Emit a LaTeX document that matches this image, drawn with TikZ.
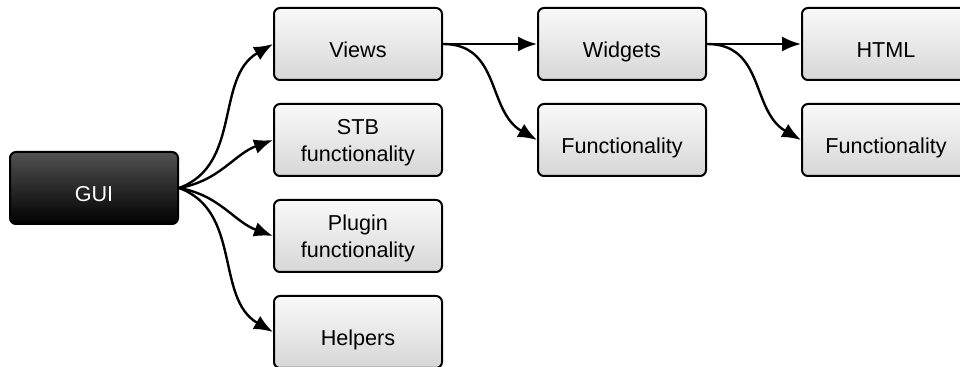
\documentclass[tikz,border=0pt]{standalone}
\usepackage{fontspec}
\setmainfont{Liberation Sans}
\usetikzlibrary{arrows.meta}

\begin{document}
\begin{tikzpicture}[x=0.5pt,y=-0.5pt]
\tikzset{box/.style={draw=black,line width=1pt,rounded corners=3pt,top color=black!2,bottom color=black!16,minimum width=84pt,minimum height=36pt,align=center,inner sep=0pt,text height=14pt,text depth=0pt,font=\fontsize{10.8}{13.5}\selectfont}}
\tikzset{twoline/.style={text height=22pt}}
\tikzset{rootbox/.style={box,top color=black!68,bottom color=black,text=white}}
\tikzset{link/.style={draw=black,line width=1.2pt,-{Latex[length=9.5pt,width=7.5pt]}}}

\useasboundingbox (0,0) rectangle (960,367);

\node[rootbox] (gui) at (94,188) {GUI};

\node[box] (views)   at (358,44)  {Views};
\node[box,twoline] (stb)     at (358,140) {STB\\functionality};
\node[box,twoline] (plugin)  at (358,236) {Plugin\\functionality};
\node[box] (helpers) at (358,332) {Helpers};

\node[box] (widgets) at (622,44)  {Widgets};
\node[box] (vfunc)   at (622,140) {Functionality};

\node[box] (html)    at (886,44)  {HTML};
\node[box] (wfunc)   at (886,140) {Functionality};

\foreach \n/\o/\i in {views/20/210,stb/10/200,plugin/-10/160,helpers/-20/150} {
  \path[link] (gui.east) to[out=\o,in=\i] (\n.west);
}

\path[link] (views.east) -- (widgets.west);
\path[link] (views.east) to[out=0,in=150,looseness=1.1] (vfunc.west);

\path[link] (widgets.east) -- (html.west);
\path[link] (widgets.east) to[out=0,in=150,looseness=1.1] (wfunc.west);
\end{tikzpicture}
\end{document}
